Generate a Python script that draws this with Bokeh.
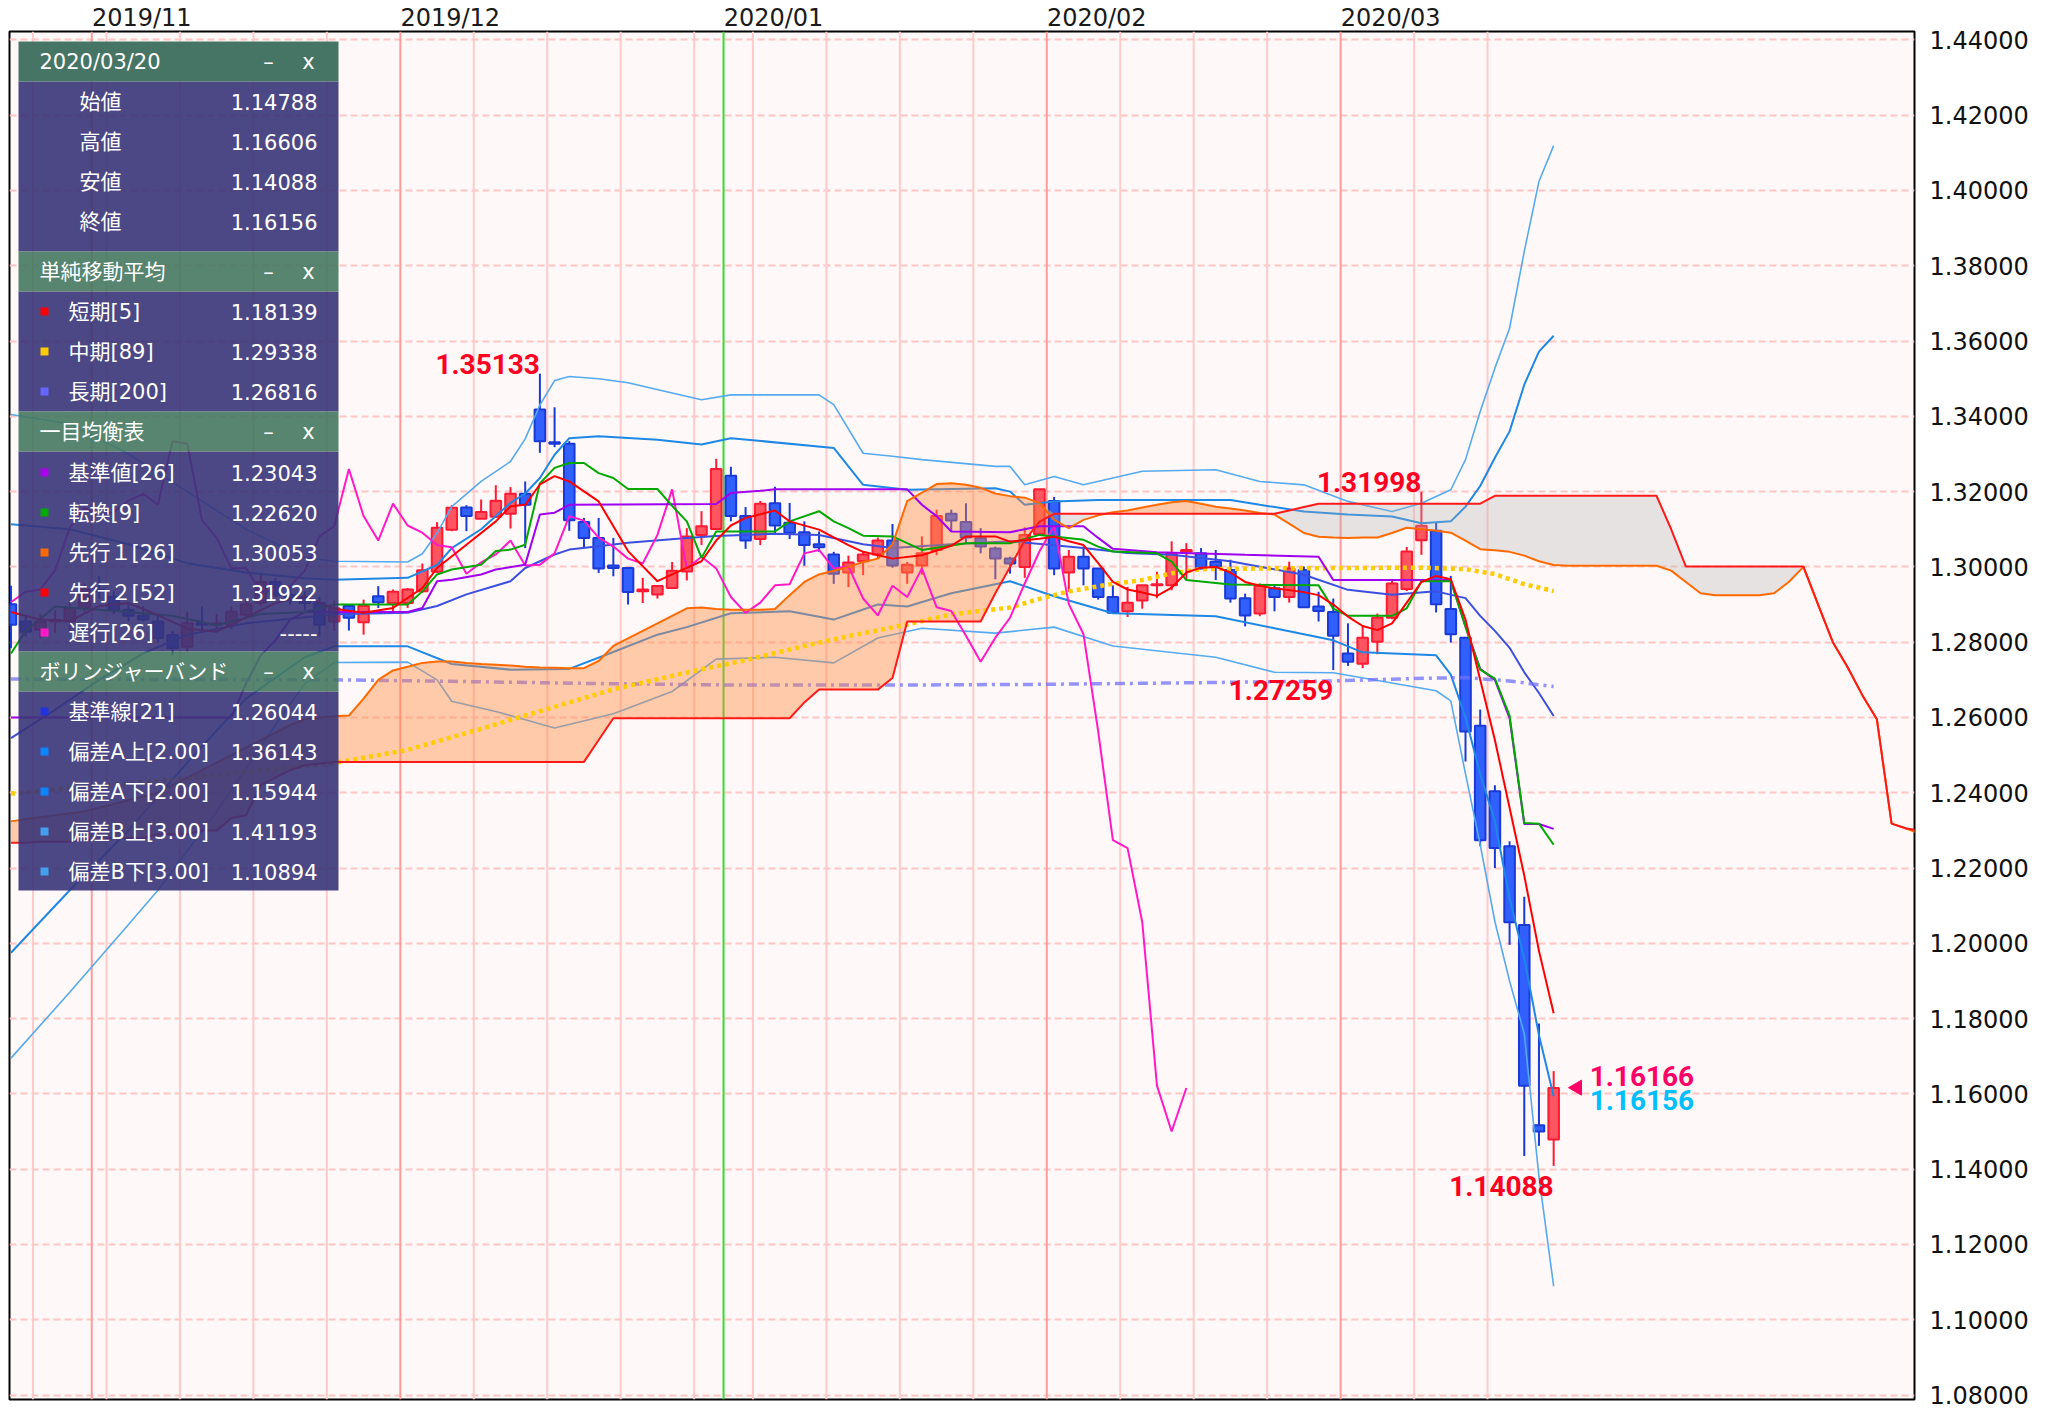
import numpy as np
import pandas as pd
from bokeh.plotting import figure
from bokeh.models import Range1d, LinearAxis, FixedTicker, SingleIntervalTicker, NumeralTickFormatter
from bokeh.core.properties import value
from bokeh.embed import file_html
from bokeh.resources import INLINE

# ---------------- data (GBP/USD daily) ----------------
excluded_days = ["2020-01-01"]
dates = [d for d in pd.bdate_range("2019-10-24", "2020-03-20")
         if d.strftime("%Y-%m-%d") not in excluded_days]

opens = [1.2901, 1.2855, 1.2833, 1.2855, 1.2855, 1.2890, 1.2940, 1.2921, 1.2886, 1.2870,
         1.2855, 1.2819, 1.2788, 1.2850, 1.2846, 1.2846, 1.2873, 1.2905, 1.2960, 1.2926,
         1.2917, 1.2904, 1.2855, 1.2896, 1.2853, 1.2922, 1.2904, 1.2904, 1.2935, 1.2987,
         1.3099, 1.3158, 1.3128, 1.3133, 1.3141, 1.3194, 1.3418, 1.3331, 1.3327, 1.3119,
         1.3077, 1.3004, 1.2997, 1.2935, 1.2927, 1.2944, 1.2988, 1.3085, 1.3101, 1.3242,
         1.3135, 1.3074, 1.3169, 1.3117, 1.3092, 1.3060, 1.3033, 1.2985, 1.3015, 1.3033,
         1.3070, 1.2985, 1.3004, 1.3045, 1.3141, 1.3119, 1.3076, 1.3049, 1.3022, 1.3000,
         1.3087, 1.3175, 1.2985, 1.3027, 1.2996, 1.2920, 1.2882, 1.2911, 1.2951, 1.2951,
         1.3041, 1.3036, 1.3014, 1.2992, 1.2917, 1.2876, 1.2943, 1.2920, 1.2992, 1.2895,
         1.2880, 1.2770, 1.2743, 1.2801, 1.2865, 1.2941, 1.3071, 1.3096, 1.2888, 1.2812,
         1.2578, 1.2404, 1.2258, 1.2049, 1.1517, 1.14788]
highs = [1.2950, 1.2870, 1.2875, 1.2885, 1.2910, 1.2955, 1.2975, 1.2935, 1.2905, 1.2895,
         1.2870, 1.2830, 1.2881, 1.2895, 1.2875, 1.2895, 1.2915, 1.2985, 1.2970, 1.2950,
         1.2935, 1.2920, 1.2910, 1.2897, 1.2913, 1.2949, 1.2940, 1.2944, 1.3009, 1.3119,
         1.3164, 1.3164, 1.3179, 1.3217, 1.3212, 1.3227, 1.35133, 1.3424, 1.3334, 1.3130,
         1.3130, 1.3077, 1.2997, 1.2971, 1.2949, 1.3013, 1.3103, 1.3148, 1.3287, 1.3266,
         1.3159, 1.3175, 1.3213, 1.3170, 1.3121, 1.3094, 1.3040, 1.3030, 1.3039, 1.3078,
         1.3114, 1.3013, 1.3081, 1.3152, 1.3152, 1.3169, 1.3103, 1.3054, 1.3027, 1.3105,
         1.3206, 1.3186, 1.3045, 1.3054, 1.2996, 1.2951, 1.2947, 1.2951, 1.2987, 1.3068,
         1.3063, 1.3050, 1.3045, 1.3019, 1.2929, 1.2956, 1.2950, 1.3014, 1.3001, 1.2934,
         1.2916, 1.2850, 1.2845, 1.2876, 1.2963, 1.3053, 1.31998, 1.3118, 1.2976, 1.2812,
         1.2621, 1.2420, 1.2271, 1.2124, 1.1787, 1.16606]
lows = [1.2784, 1.2815, 1.2810, 1.2825, 1.2830, 1.2880, 1.2915, 1.2875, 1.2855, 1.2855,
        1.2800, 1.2765, 1.2775, 1.2825, 1.2830, 1.2835, 1.2860, 1.2895, 1.2920, 1.2900,
        1.2885, 1.2815, 1.2830, 1.2831, 1.2820, 1.2891, 1.2878, 1.2891, 1.2931, 1.2984,
        1.3095, 1.3095, 1.3128, 1.3130, 1.3102, 1.3050, 1.3303, 1.3318, 1.3096, 1.3050,
        1.2984, 1.2975, 1.2900, 1.2904, 1.2916, 1.2944, 1.2964, 1.3058, 1.3101, 1.3121,
        1.3048, 1.3058, 1.3090, 1.3074, 1.3003, 1.3040, 1.2955, 1.2946, 1.2978, 1.3022,
        1.2998, 1.2955, 1.2979, 1.3031, 1.3094, 1.3063, 1.3036, 1.2967, 1.2982, 1.2971,
        1.3085, 1.2978, 1.2934, 1.2951, 1.2913, 1.2878, 1.2867, 1.2889, 1.2917, 1.2938,
        1.2965, 1.2994, 1.2965, 1.2905, 1.2842, 1.2869, 1.2882, 1.2905, 1.2891, 1.2855,
        1.27259, 1.2737, 1.2731, 1.2768, 1.2861, 1.2936, 1.3032, 1.2879, 1.2799, 1.2483,
        1.2258, 1.2200, 1.1996, 1.1435, 1.1462, 1.14088]
closes = [1.2846, 1.2828, 1.2855, 1.2859, 1.2890, 1.2940, 1.2935, 1.2886, 1.2870, 1.2860,
          1.2811, 1.2784, 1.2850, 1.2846, 1.2850, 1.2881, 1.2901, 1.2960, 1.2926, 1.2920,
          1.2904, 1.2846, 1.2890, 1.2865, 1.2896, 1.2906, 1.2934, 1.2940, 1.2991, 1.3104,
          1.3157, 1.3135, 1.3146, 1.3176, 1.3194, 1.3165, 1.3334, 1.3327, 1.3124, 1.3077,
          1.2996, 1.2997, 1.2933, 1.2940, 1.2949, 1.2990, 1.3081, 1.3108, 1.3260, 1.3135,
          1.3070, 1.3168, 1.3110, 1.3091, 1.3058, 1.3052, 1.2982, 1.3012, 1.3033, 1.3070,
          1.3004, 1.3006, 1.3036, 1.3135, 1.3123, 1.3078, 1.3054, 1.3022, 1.3009, 1.3085,
          1.3206, 1.2996, 1.3027, 1.2996, 1.2920, 1.2878, 1.2905, 1.2951, 1.2954, 1.3036,
          1.3045, 1.2996, 1.3001, 1.2916, 1.2871, 1.2950, 1.2920, 1.2996, 1.2893, 1.2883,
          1.2817, 1.2748, 1.2812, 1.2865, 1.2956, 1.3041, 1.3109, 1.2901, 1.2821, 1.2563,
          1.2274, 1.2253, 1.2056, 1.1622, 1.1500, 1.16156]

# simple moving averages (vertex index -> value)
sma5_x = [0, 2, 4, 6, 8, 10, 12, 14, 16, 18, 20, 22, 24, 26, 28, 29, 31, 33, 34, 35,
          36, 37, 38, 40, 42, 44, 45, 47, 48, 49, 50, 52, 53, 55, 57, 58, 60, 62, 64, 65,
          67, 68, 70, 71, 72, 73, 74, 75, 76, 77, 78, 79, 80, 81, 82, 83, 84, 85, 86, 88,
          89, 90, 91, 92, 93, 94, 95, 96, 97, 98, 99, 100, 101, 102, 103, 104, 105]
sma5_y = [1.2880, 1.2860, 1.2856, 1.2896, 1.2904, 1.2872, 1.2836, 1.2828, 1.2866, 1.2904,
          1.2922, 1.2889, 1.2878, 1.2891, 1.2944, 1.2997, 1.3059, 1.3121, 1.3161, 1.3165,
          1.3219, 1.3241, 1.3227, 1.3174, 1.3042, 1.2962, 1.2980, 1.3015, 1.3070, 1.3110,
          1.3130, 1.3150, 1.3121, 1.3099, 1.3058, 1.3040, 1.3022, 1.3031, 1.3056, 1.3081,
          1.3081, 1.3067, 1.3075, 1.3080, 1.3068, 1.3058, 1.3010, 1.2960, 1.2940, 1.2932,
          1.2923, 1.2945, 1.2985, 1.2998, 1.3000, 1.2985, 1.2960, 1.2950, 1.2943, 1.2933,
          1.2925, 1.2900, 1.2868, 1.2843, 1.2832, 1.2850, 1.2905, 1.2960, 1.2976, 1.2967,
          1.2860, 1.2700, 1.2540, 1.2360, 1.2180, 1.1980, 1.1814]
sma89_x = [0, 11, 22, 27, 32, 35, 41, 47, 50, 54, 57, 61, 64, 68, 70, 72, 75, 77, 79, 81,
           86, 91, 96, 99, 101, 103, 105]
sma89_y = [1.2398, 1.2435, 1.2479, 1.2514, 1.2570, 1.2605, 1.2675, 1.2728, 1.2752, 1.2790,
           1.2816, 1.2847, 1.2874, 1.2892, 1.2915, 1.2935, 1.2955, 1.2965, 1.2983, 1.2994,
           1.2996, 1.2997, 1.2998, 1.2994, 1.2981, 1.2954, 1.2936]
sma200_x = [0, 22, 30, 40, 50, 60, 70, 80, 90, 95, 99, 102, 105]
sma200_y = [1.2702, 1.2700, 1.2696, 1.2690, 1.2686, 1.2686, 1.2688, 1.2692, 1.2697, 1.2703,
            1.2706, 1.2697, 1.2682]

# ichimoku
tenkan_x = [0, 1, 3, 8, 11, 14, 17, 20, 22, 27, 28, 29, 30, 32, 33, 34, 35, 36, 37, 38,
            39, 40, 41, 42, 44, 45, 46, 47, 48, 52, 53, 55, 56, 57, 58, 60, 61, 62, 65, 68,
            70, 71, 73, 74, 75, 78, 79, 80, 83, 89, 90, 91, 94, 95, 96, 98, 99, 100, 101, 102,
            103, 104, 105]
tenkan_y = [1.2770, 1.2830, 1.2895, 1.2880, 1.2870, 1.2845, 1.2875, 1.2880, 1.2900, 1.2900,
            1.2935, 1.2980, 1.2993, 1.3006, 1.3042, 1.3046, 1.3059, 1.3222, 1.3263, 1.3276,
            1.3276, 1.3249, 1.3236, 1.3207, 1.3207, 1.3162, 1.3121, 1.3024, 1.3094, 1.3094,
            1.3121, 1.3148, 1.3121, 1.3103, 1.3083, 1.3081, 1.3063, 1.3045, 1.3063, 1.3063,
            1.3085, 1.3081, 1.3072, 1.3054, 1.3041, 1.3036, 1.3014, 1.2965, 1.2953, 1.2951,
            1.2889, 1.2870, 1.2870, 1.2890, 1.2962, 1.2962, 1.2841, 1.2727, 1.2703, 1.2605,
            1.2320, 1.2318, 1.2262]
kijun_x = [0, 15, 16, 17, 18, 19, 20, 27, 28, 29, 30, 32, 33, 35, 36, 37, 38, 48, 49, 51,
           52, 61, 62, 63, 64, 68, 69, 70, 73, 74, 75, 78, 84, 89, 90, 98, 99, 100, 101, 102,
           103, 104, 105]
kijun_y = [1.2600, 1.2600, 1.2690, 1.2765, 1.2805, 1.2860, 1.2880, 1.2880, 1.2891, 1.2962,
           1.2966, 1.2980, 1.2993, 1.3006, 1.3139, 1.3144, 1.3165, 1.3167, 1.3196, 1.3202,
           1.3206, 1.3206, 1.3165, 1.3135, 1.3094, 1.3092, 1.3100, 1.3108, 1.3108, 1.3077,
           1.3048, 1.3039, 1.3032, 1.3027, 1.2965, 1.2965, 1.2841, 1.2729, 1.2700, 1.2598,
           1.2317, 1.2317, 1.2304]
# leading spans, one value per index 0..130 (they run 25 bars past the last candle)
senkou_a = [1.2324, 1.2330, 1.2335, 1.2340, 1.2345, 1.2350, 1.2360, 1.2370, 1.2380, 1.2390,
            1.2400, 1.2420, 1.2440, 1.2460, 1.2480, 1.2500, 1.2520, 1.2540, 1.2560, 1.2580,
            1.2595, 1.2600, 1.2603, 1.2605, 1.2650, 1.2700, 1.2725, 1.2735, 1.2745, 1.2749,
            1.2749, 1.2745, 1.2742, 1.2740, 1.2738, 1.2735, 1.2733, 1.2732, 1.2731, 1.2731,
            1.2750, 1.2790, 1.2810, 1.2830, 1.2850, 1.2870, 1.2890, 1.2892, 1.2888, 1.2886,
            1.2886, 1.2886, 1.2888, 1.2925, 1.2960, 1.2980, 1.2990, 1.3000, 1.3013, 1.3022,
            1.3060, 1.3175, 1.3197, 1.3220, 1.3222, 1.3218, 1.3210, 1.3195, 1.3188, 1.3184,
            1.3170, 1.3125, 1.3103, 1.3125, 1.3137, 1.3145, 1.3150, 1.3158, 1.3165, 1.3172,
            1.3175, 1.3168, 1.3160, 1.3155, 1.3150, 1.3143, 1.3139, 1.3115, 1.3090, 1.3080,
            1.3078, 1.3077, 1.3078, 1.3078, 1.3090, 1.3104, 1.3100, 1.3096, 1.3091, 1.3070,
            1.3047, 1.3044, 1.3040, 1.3030, 1.3015, 1.3005, 1.3003, 1.3003, 1.3003, 1.3003,
            1.3003, 1.3003, 1.3003, 1.2990, 1.2960, 1.2930, 1.2925, 1.2925, 1.2925, 1.2925,
            1.2930, 1.2960, 1.3000, 1.2900, 1.2800, 1.2734, 1.2660, 1.2595, 1.2318, 1.2305,
            1.2290]
senkou_b = [1.2267, 1.2267, 1.2270, 1.2270, 1.2270, 1.2275, 1.2275, 1.2280, 1.2280, 1.2280,
            1.2290, 1.2290, 1.2290, 1.2300, 1.2300, 1.2333, 1.2340, 1.2420, 1.2440, 1.2460,
            1.2473, 1.2478, 1.2482, 1.2482, 1.2482, 1.2482, 1.2482, 1.2482, 1.2482, 1.2482,
            1.2482, 1.2482, 1.2482, 1.2482, 1.2482, 1.2482, 1.2482, 1.2482, 1.2482, 1.2482,
            1.2540, 1.2598, 1.2598, 1.2598, 1.2598, 1.2598, 1.2598, 1.2598, 1.2598, 1.2598,
            1.2598, 1.2598, 1.2598, 1.2598, 1.2640, 1.2674, 1.2674, 1.2674, 1.2674, 1.2674,
            1.2705, 1.2855, 1.2855, 1.2855, 1.2855, 1.2855, 1.2855, 1.2930, 1.3000, 1.3070,
            1.3120, 1.3141, 1.3141, 1.3141, 1.3141, 1.3141, 1.3141, 1.3141, 1.3141, 1.3141,
            1.3141, 1.3141, 1.3141, 1.3141, 1.3141, 1.3141, 1.3141, 1.3150, 1.3159, 1.3168,
            1.3168, 1.3168, 1.3168, 1.3168, 1.3168, 1.3168, 1.3168, 1.3168, 1.3168, 1.3168,
            1.3168, 1.3189, 1.3189, 1.3189, 1.3189, 1.3189, 1.3189, 1.3189, 1.3189, 1.3189,
            1.3189, 1.3189, 1.3189, 1.3100, 1.3001, 1.3001, 1.3001, 1.3001, 1.3001, 1.3001,
            1.3001, 1.3001, 1.3001, 1.2900, 1.2800, 1.2734, 1.2660, 1.2595, 1.2318, 1.2305,
            1.2300]
chikou_lag = 25

# bollinger bands (21, 2.0 / 3.0)
bb_mid_x = [0, 3, 6, 9, 12, 16, 22, 27, 29, 31, 34, 35, 37, 38, 40, 42, 46, 48, 52, 55,
            58, 60, 64, 68, 73, 76, 79, 83, 88, 91, 94, 97, 99, 100, 101, 102, 103, 104, 105]
bb_mid_y = [1.2545, 1.2620, 1.2700, 1.2770, 1.2820, 1.2850, 1.2874, 1.2878, 1.2896, 1.2927,
            1.2962, 1.2997, 1.3033, 1.3046, 1.3055, 1.3064, 1.3077, 1.3082, 1.3088, 1.3085,
            1.3060, 1.3050, 1.3060, 1.3068, 1.3050, 1.3037, 1.3032, 1.3015, 1.2979, 1.2939,
            1.2926, 1.2935, 1.2917, 1.2870, 1.2830, 1.2785, 1.2720, 1.2665, 1.2604]
bb_up2_x = [0, 4, 8, 12, 16, 20, 22, 27, 29, 30, 32, 34, 35, 36, 37, 38, 40, 44, 47, 49,
            56, 58, 61, 67, 68, 69, 71, 74, 83, 85, 88, 91, 94, 96, 98, 99, 100, 101, 102, 103,
            104, 105]
bb_up2_y = [1.3113, 1.3100, 1.3060, 1.3010, 1.2985, 1.2970, 1.2966, 1.2971, 1.3005, 1.3050,
            1.3100, 1.3170, 1.3195, 1.3236, 1.3298, 1.3342, 1.3347, 1.3338, 1.3325, 1.3342,
            1.3316, 1.3218, 1.3205, 1.3209, 1.3200, 1.3165, 1.3174, 1.3178, 1.3178, 1.3165,
            1.3147, 1.3139, 1.3134, 1.3116, 1.3121, 1.3160, 1.3215, 1.3290, 1.3360, 1.3484,
            1.3572, 1.3614]
bb_dn2_x = [0, 4, 8, 12, 16, 20, 22, 27, 30, 34, 38, 41, 44, 46, 49, 53, 56, 59, 61, 64,
            68, 71, 75, 82, 86, 90, 92, 97, 98, 99, 100, 101, 102, 103, 104, 105]
bb_dn2_y = [1.1975, 1.2141, 1.2300, 1.2480, 1.2650, 1.2760, 1.2789, 1.2789, 1.2742, 1.2727,
            1.2729, 1.2774, 1.2820, 1.2840, 1.2877, 1.2882, 1.2860, 1.2900, 1.2895, 1.2930,
            1.2962, 1.2922, 1.2877, 1.2869, 1.2837, 1.2805, 1.2773, 1.2765, 1.2714, 1.2600,
            1.2450, 1.2324, 1.2120, 1.1960, 1.1756, 1.1594]
bb_up3_x = [0, 4, 8, 12, 16, 20, 22, 27, 28, 29, 30, 32, 34, 35, 36, 37, 38, 40, 42, 45,
            47, 49, 55, 56, 58, 60, 62, 67, 68, 69, 71, 73, 77, 82, 85, 88, 91, 94, 96, 98,
            99, 100, 101, 102, 103, 104, 105]
bb_up3_y = [1.3405, 1.3380, 1.3300, 1.3200, 1.3100, 1.3025, 1.3015, 1.3013, 1.3035, 1.3090,
            1.3160, 1.3227, 1.3280, 1.3340, 1.3430, 1.3495, 1.3506, 1.3500, 1.3489, 1.3462,
            1.3444, 1.3457, 1.3457, 1.3431, 1.3302, 1.3294, 1.3285, 1.3267, 1.3267, 1.3218,
            1.3240, 1.3218, 1.3254, 1.3258, 1.3227, 1.3218, 1.3174, 1.3147, 1.3169, 1.3205,
            1.3285, 1.3413, 1.3528, 1.3634, 1.3838, 1.4024, 1.4119]
bb_dn3_x = [0, 4, 8, 10, 14, 18, 20, 22, 27, 29, 30, 33, 37, 41, 45, 48, 52, 56, 59, 62,
            67, 71, 75, 82, 86, 90, 97, 98, 99, 100, 101, 102, 103, 104, 105]
bb_dn3_y = [1.1695, 1.1870, 1.2050, 1.2141, 1.2350, 1.2580, 1.2690, 1.2746, 1.2747, 1.2700,
            1.2643, 1.2616, 1.2572, 1.2610, 1.2669, 1.2755, 1.2760, 1.2745, 1.2811, 1.2837,
            1.2824, 1.2840, 1.2790, 1.2760, 1.2720, 1.2719, 1.2671, 1.2644, 1.2450, 1.2262,
            1.2058, 1.1900, 1.1760, 1.1380, 1.1089]

# marked extremes and current quotes
high_marks = [36, 96]
low_marks = [90, 105]
ask_price = 1.16166
bid_price = 1.16156

# info panel texts
panel_date = "2020/03/20"
ohlc_names = ["始値", "高値", "安値", "終値"]
ohlc_values = ["1.14788", "1.16606", "1.14088", "1.16156"]
sma_names = ["短期[5]", "中期[89]", "長期[200]"]
sma_values = ["1.18139", "1.29338", "1.26816"]
sma_colors = ["#ff0000", "#ffcc00", "#6666ff"]
ichi_names = ["基準値[26]", "転換[9]", "先行１[26]", "先行２[52]", "遅行[26]"]
ichi_values = ["1.23043", "1.22620", "1.30053", "1.31922", "-----"]
ichi_colors = ["#aa00ee", "#00aa00", "#ff6a00", "#ff0000", "#ff19c8"]
bb_names = ["基準線[21]", "偏差A上[2.00]", "偏差A下[2.00]", "偏差B上[3.00]", "偏差B下[3.00]"]
bb_values = ["1.26044", "1.36143", "1.15944", "1.41193", "1.10894"]
bb_colors = ["#2233dd", "#0a84ff", "#0a84ff", "#44a0ee", "#44a0ee"]
section_titles = ["単純移動平均", "一目均衡表", "ボリンジャーバンド"]

# ---------------- layout ----------------
FL, FT = 9.0, 30.0          # page position of the plot frame (canvas starts at 0,0)
FW, FH = 1905, 1368
X0, X1 = -0.1, 129.56
Y0, Y1 = 1.07882, 1.44223
PPX = FW / (X1 - X0)
PPY = FH / (Y1 - Y0)


def dx(px):
    return X0 + (px - FL) / PPX


def dy(py):
    return Y1 - (py - FT) / PPY


FONT = "DejaVu Sans, Noto Sans CJK JP"
BOLD = "Roboto"

p = figure(frame_width=FW, frame_height=FH,
           x_range=Range1d(X0, X1), y_range=Range1d(Y0, Y1),
           output_backend="svg", toolbar_location=None,
           x_axis_location=None, y_axis_location="right",
           min_border_left=int(FL), min_border_right=130, min_border_top=int(FT), min_border_bottom=10,
           background_fill_color="#fff8f8", border_fill_color="#ffffff",
           outline_line_color="#000000", outline_line_width=2)

ax = p.yaxis[0]
ax.ticker = SingleIntervalTicker(interval=0.02, num_minor_ticks=0)
ax.formatter = NumeralTickFormatter(format="0.00000")
ax.axis_line_color = None
ax.major_tick_line_color = None
ax.minor_tick_line_color = None
ax.major_tick_out = 0
ax.major_tick_in = 0
ax.major_label_standoff = 15
ax.major_label_text_font = "DejaVu Sans"
ax.major_label_text_font_size = "24px"
ax.major_label_text_color = "#111111"
p.xgrid.visible = False
p.ygrid.grid_line_color = "#ffc4c4"
p.ygrid.grid_line_dash = "7 4"
p.ygrid.grid_line_width = 2

# vertical lines: Mondays (light), month starts (darker), new year (green)
n = len(dates)
idx = np.arange(n)
month_starts = [i for i in range(1, n) if dates[i].month != dates[i - 1].month]
year_starts = [i for i in range(1, n) if dates[i].year != dates[i - 1].year]
mondays = [i for i in range(n) if dates[i].weekday() == 0 and i not in month_starts]
for group, col in ((mondays, "#ffcaca"), ([m for m in month_starts if m not in year_starts], "#ff9a9a"),
                   (year_starts, "#33dd33")):
    xs = np.array(group, dtype=float) - 0.5
    p.segment(x0=xs, y0=[Y0] * len(xs), x1=xs, y1=[Y1] * len(xs), line_color=col, line_width=2)

# month labels above the frame: an axis on a scaled copy of the x range (integer ticks)
SCALE = 100
p.extra_x_ranges = {"months": Range1d(X0 * SCALE, X1 * SCALE)}
half_label = 50.0 / PPX            # labels start at the month line
m_ticks = [int(round((m - 0.5 + half_label) * SCALE)) for m in month_starts]
m_text = {t: f"{dates[m].year}/{dates[m].month:02d}" for t, m in zip(m_ticks, month_starts)}
top_ax = LinearAxis(x_range_name="months", ticker=FixedTicker(ticks=m_ticks),
                    major_label_overrides=m_text)
top_ax.axis_line_color = None
top_ax.major_tick_line_color = None
top_ax.minor_tick_line_color = None
top_ax.major_tick_out = 0
top_ax.major_tick_in = 0
top_ax.major_label_standoff = 0
top_ax.major_label_text_font = "DejaVu Sans"
top_ax.major_label_text_font_size = "24px"
top_ax.major_label_text_color = "#1a1a1a"
p.add_layout(top_ax, "above")

# candles
o = np.array(opens); h = np.array(highs); l = np.array(lows); c = np.array(closes)
up = c >= o
wick_col = np.where(up, "#ff1a33", "#1a3ad6")
body_fill = np.where(up, "#ff5560", "#3160ff")
p.segment(x0=idx, y0=l, x1=idx, y1=h, line_color=wick_col, line_width=2)
p.vbar(x=idx, width=0.72, top=np.maximum(o, c), bottom=np.minimum(o, c),
       fill_color=body_fill, line_color=wick_col, line_width=2)

# bollinger bands
p.line(bb_up3_x, bb_up3_y, line_color="#55aaf0", line_width=1.6)
p.line(bb_dn3_x, bb_dn3_y, line_color="#55aaf0", line_width=1.6)
p.line(bb_up2_x, bb_up2_y, line_color="#1e88e5", line_width=2)
p.line(bb_dn2_x, bb_dn2_y, line_color="#1e88e5", line_width=2)
p.line(bb_mid_x, bb_mid_y, line_color="#3b4fe0", line_width=2)

# long SMA (dash-dot)
p.line(sma200_x, sma200_y, line_color="#7070ff", line_alpha=0.75, line_width=3.5,
       line_dash="10 5 3 5")

# cloud
sa = np.array(senkou_a); sb = np.array(senkou_b)
cx = np.arange(len(sa))
top = np.maximum(sa, sb)
p.varea(x=cx, y1=sb, y2=top, fill_color="#ff8a3d", fill_alpha=0.42)
p.varea(x=cx, y1=sa, y2=top, fill_color="#b0b0b0", fill_alpha=0.3)

# mid SMA (dotted)
p.line(sma89_x, sma89_y, line_color="#ffcc00", line_width=4.5, line_dash="4 4")

# ichimoku lines
p.line(idx[chikou_lag:] - chikou_lag, c[chikou_lag:], line_color="#ff19c8", line_width=2)
p.line(kijun_x, kijun_y, line_color="#a000f0", line_width=2)
p.line(tenkan_x, tenkan_y, line_color="#00a800", line_width=2)
p.line(cx, sa, line_color="#ff6a00", line_width=2)
p.line(cx, sb, line_color="#ff1a1a", line_width=2)

# short SMA
p.line(sma5_x, sma5_y, line_color="#ff0000", line_width=2)

# extreme labels
for i in high_marks:
    p.text(x=[i], y=[highs[i]], text=[f"{highs[i]:.5f}"], text_align="right", text_baseline="bottom",
           text_font=value(BOLD), text_font_style="bold", text_font_size=value("28px"), text_color="#ff0022")
for i in low_marks:
    p.text(x=[i], y=[lows[i] - 10 / PPY], text=[f"{lows[i]:.5f}"], text_align="right", text_baseline="top",
           text_font=value(BOLD), text_font_style="bold", text_font_size=value("28px"), text_color="#ff0022")

# current quote
last = n - 1
p.scatter(x=[last + 1.6], y=[ask_price], marker="triangle", size=15, angle=np.pi / 2,
          fill_color="#ff0066", line_color="#ff0066")
p.text(x=[last + 2.45], y=[ask_price + 12 / PPY], text=[f"{ask_price:.5f}"], text_align="left",
       text_baseline="middle", text_font=value(BOLD), text_font_style="bold",
       text_font_size=value("28px"), text_color="#ff0066")
p.text(x=[last + 2.45], y=[ask_price - 12 / PPY], text=[f"{bid_price:.5f}"], text_align="left",
       text_baseline="middle", text_font=value(BOLD), text_font_style="bold",
       text_font_size=value("28px"), text_color="#00bfff")

# ---------------- info panel ----------------
PL, PR = 18, 338
headers = [(40, 80), (250, 290), (410, 450), (650, 690)]
bodies = [(80, 250), (290, 410), (450, 650), (690, 889)]
p.quad(left=[dx(PL)] * 4, right=[dx(PR)] * 4, top=[dy(b[0]) for b in bodies],
       bottom=[dy(b[1]) for b in bodies], fill_color="#383478", fill_alpha=0.9, line_color=None)
p.quad(left=[dx(PL)] * 3, right=[dx(PR)] * 3, top=[dy(hh[0]) for hh in headers[1:]],
       bottom=[dy(hh[1]) for hh in headers[1:]], fill_color="#457861", fill_alpha=0.9, line_color=None)
p.quad(left=[dx(PL)], right=[dx(PR)], top=[dy(headers[0][0])], bottom=[dy(headers[0][1])],
       fill_color="#467566", fill_alpha=1.0, line_color=None)

TS = value("21px")
head_txt = [panel_date] + section_titles
p.text(x=[dx(39)] * 4, y=[dy((a + b) / 2) for a, b in headers], text=head_txt, text_align="left",
       text_baseline="middle", text_font=value(FONT), text_font_size=TS, text_color="#ffffff")
p.text(x=[dx(268)] * 4, y=[dy((a + b) / 2) for a, b in headers], text=["–"] * 4, text_align="center",
       text_baseline="middle", text_font=value(FONT), text_font_size=TS, text_color="#ffffff")
p.text(x=[dx(308)] * 4, y=[dy((a + b) / 2) for a, b in headers], text=["x"] * 4, text_align="center",
       text_baseline="middle", text_font=value(FONT), text_font_size=TS, text_color="#ffffff")

ohlc_y = [dy(100 + 40 * k) for k in range(4)]
p.text(x=[dx(100)] * 4, y=ohlc_y, text=ohlc_names, text_align="center", text_baseline="middle",
       text_font=value(FONT), text_font_size=TS, text_color="#ffffff")
p.text(x=[dx(317)] * 4, y=ohlc_y, text=ohlc_values, text_align="right", text_baseline="middle",
       text_font=value(FONT), text_font_size=TS, text_color="#ffffff")

for start, names, vals, cols in ((310, sma_names, sma_values, sma_colors),
                                 (471, ichi_names, ichi_values, ichi_colors),
                                 (710, bb_names, bb_values, bb_colors)):
    ys = [dy(start + 40 * k) for k in range(len(names))]
    p.scatter(x=[dx(44)] * len(names), y=ys, marker="square", size=8, fill_color=cols, line_color=None)
    p.text(x=[dx(68)] * len(names), y=ys, text=names, text_align="left", text_baseline="middle",
           text_font=value(FONT), text_font_size=TS, text_color="#ffffff")
    p.text(x=[dx(317)] * len(names), y=ys, text=vals, text_align="right", text_baseline="middle",
           text_font=value(FONT), text_font_size=TS, text_color="#ffffff")

open("out.html", "w").write(file_html(p, INLINE))
